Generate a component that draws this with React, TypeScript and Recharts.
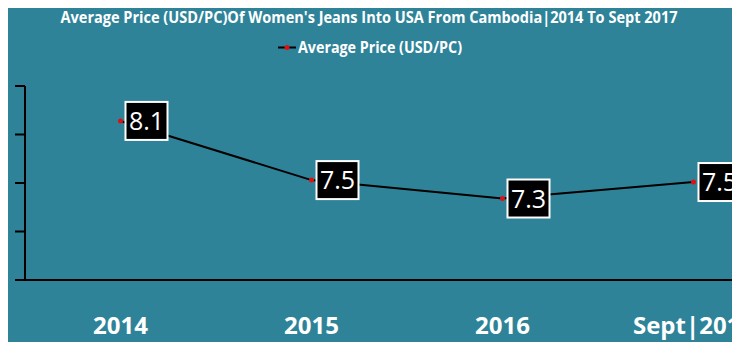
import { LineChart, Line, XAxis, YAxis, Legend, LabelList } from "recharts";

const categories = ["2014", "2015", "2016", "Sept|2017"];
const avgPrice = [8.14, 7.53, 7.34, 7.51];
const yTicks = [6.5, 7, 7.5, 8, 8.5];
const title = "Average Price (USD/PC)Of Women's Jeans Into USA From Cambodia|2014 To Sept 2017";
const seriesName = "Average Price (USD/PC)";

const data = categories.map((year, i) => ({ year, price: avgPrice[i] }));

const BG = "#2E8399";
const FONT = "'Open Sans', 'DejaVu Sans', sans-serif";

function XTick({ x, y, payload }: any) {
  return (
    <text x={x} y={y + 54} textAnchor="middle" fill="#fff" fontSize={24} fontWeight={700} fontFamily={FONT}>
      {payload.value}
    </text>
  );
}

// y axis shows tick marks only, no labels
function NoLabel() {
  return <g />;
}

function ValueBox({ x, y, value }: any) {
  return (
    <g>
      <rect x={x + 5} y={y - 19} width={42} height={38} fill="#000" stroke="#fff" strokeWidth={2} />
      <text x={x + 26} y={y + 9} textAnchor="middle" fill="#fff" fontSize={25} fontFamily={FONT}>
        {Number(value).toFixed(1)}
      </text>
    </g>
  );
}

function LegendBox() {
  return (
    <svg width={740} height={24} style={{ display: "block" }}>
      <line x1={278} y1={11.5} x2={296} y2={11.5} stroke="#000" strokeWidth={2} />
      <circle cx={287} cy={11.5} r={2.5} fill="#e01010" />
      <text x={298} y={16.5} fill="#fff" fontSize={16} fontWeight={700} fontFamily={FONT} textLength={164} lengthAdjust="spacingAndGlyphs">
        {seriesName}
      </text>
    </svg>
  );
}

export default function App() {
  return (
    <div style={{ margin: -8, width: 740, height: 350, overflow: "hidden", position: "relative", background: BG }}>
      <svg width={740} height={30} style={{ position: "absolute", left: 0, top: 0 }}>
        <text x={369} y={23} textAnchor="middle" fill="#fff" fontSize={16} fontWeight={700} fontFamily={FONT} textLength={617} lengthAdjust="spacingAndGlyphs">
          {title}
        </text>
      </svg>
      <LineChart width={800} height={350} data={data} margin={{ top: 86, right: 11, bottom: 10, left: 15 }}>
        <XAxis
          dataKey="year"
          scale="band"
          height={60}
          tickLine={false}
          tickSize={0}
          tickMargin={0}
          axisLine={{ stroke: "#000", strokeWidth: 2 }}
          tick={<XTick />}
          interval={0}
        />
        <YAxis
          width={10}
          domain={[6.5, 8.5]}
          ticks={yTicks}
          tick={<NoLabel />}
          tickSize={10}
          tickLine={{ stroke: "#000", strokeWidth: 2 }}
          axisLine={{ stroke: "#000", strokeWidth: 2 }}
        />
        <Legend layout="horizontal" verticalAlign="middle" align="center" content={<LegendBox />} wrapperStyle={{ top: 36, left: 0, width: 740 }} />
        <Line
          type="linear"
          dataKey="price"
          name={seriesName}
          stroke="#000"
          strokeWidth={2}
          dot={{ r: 2.5, fill: "#e01010", stroke: "#e01010", strokeWidth: 0 }}
          activeDot={false}
          isAnimationActive={false}
        >
          <LabelList dataKey="price" content={<ValueBox />} />
        </Line>
      </LineChart>
      <div style={{ position: "absolute", left: 0, top: 0, width: 740, height: 1, background: "#c8c8c8" }} />
      <div style={{ position: "absolute", left: 0, bottom: 0, width: 740, height: 2, background: "#c8c8c8" }} />
    </div>
  );
}
